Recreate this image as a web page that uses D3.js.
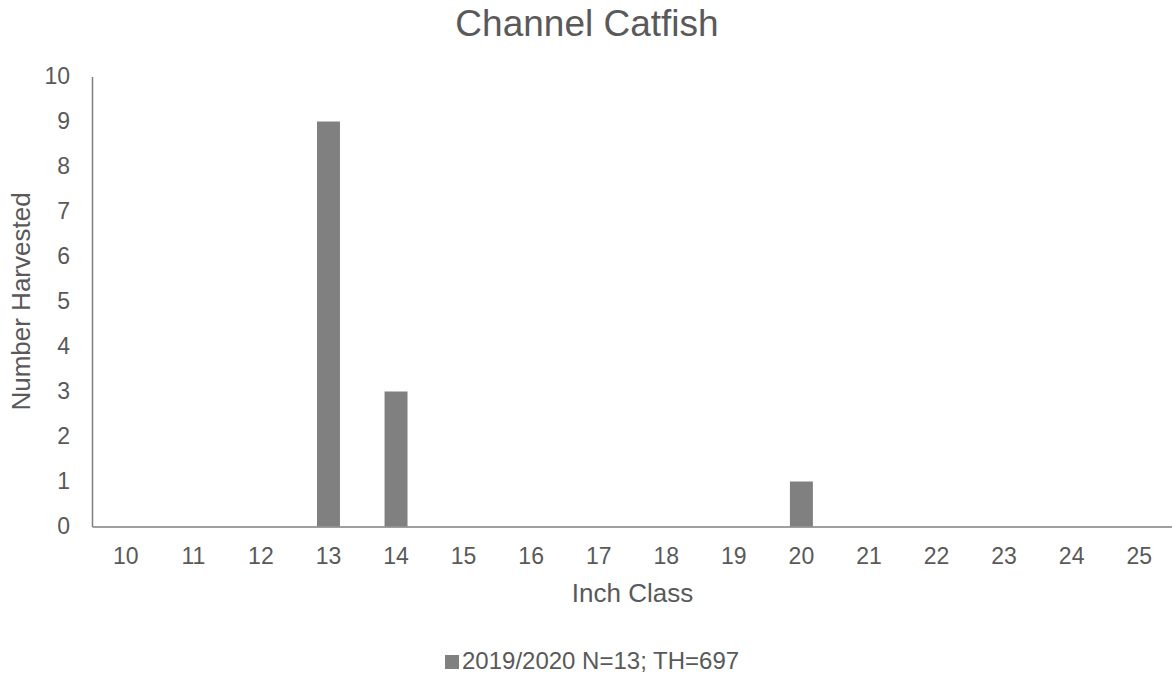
<!DOCTYPE html>
<html>
<head>
<meta charset="utf-8">
<script src="https://cdn.jsdelivr.net/npm/d3@7"></script>
<style>
  body { margin: 0; background: #fff; }
  text { font-family: "Liberation Sans", Arial, sans-serif; fill: #595959; }
</style>
</head>
<body>
<div id="chart"></div>
<script>
// data
var inchClasses = ["10","11","12","13","14","15","16","17","18","19","20","21","22","23","24","25"];
var harvested = [0, 0, 0, 9, 3, 0, 0, 0, 0, 0, 1, 0, 0, 0, 0, 0];
var yTicks = [0,1,2,3,4,5,6,7,8,9,10];
var seriesName = "2019/2020 N=13; TH=697";

var W = 1172, H = 679;
var margin = {left: 92, right: -1, top: 76.5, bottom: 152.5};
var width = W - margin.left - margin.right, height = H - margin.top - margin.bottom;

var svg = d3.select("#chart").append("svg")
    .attr("width", W).attr("height", H);

svg.append("text")
    .attr("x", 587).attr("y", 36)
    .attr("text-anchor", "middle")
    .style("font-size", "37px")
    .text("Channel Catfish");

var g = svg.append("g").attr("transform", "translate(" + margin.left + "," + margin.top + ")");

var x = d3.scaleBand().domain(inchClasses).range([0, width]).paddingInner(0.66).paddingOuter(0.33);
var y = d3.scaleLinear().domain([0, 10]).range([height, 0]);

g.selectAll("rect.bar")
    .data(harvested)
    .enter().append("rect")
    .attr("class", "bar")
    .attr("x", function(d, i) { return x(inchClasses[i]); })
    .attr("width", x.bandwidth())
    .attr("y", function(d) { return y(d); })
    .attr("height", function(d) { return height - y(d); })
    .attr("fill", "#808080");

// axes
var yAxis = g.append("g").call(d3.axisLeft(y).tickValues(yTicks).tickSize(0).tickPadding(22));
yAxis.select(".domain").attr("stroke", "#7f7f7f").attr("stroke-width", 1.5);
yAxis.selectAll("text").style("font-size", "23px").attr("fill", "#595959");

var xAxis = g.append("g").attr("transform", "translate(0," + height + ")")
    .call(d3.axisBottom(x).tickSize(0).tickPadding(21));
xAxis.select(".domain").attr("stroke", "#7f7f7f").attr("stroke-width", 1.5);
xAxis.selectAll("text").style("font-size", "23px").attr("fill", "#595959");

svg.append("text")
    .attr("x", margin.left + width / 2).attr("y", 602)
    .attr("text-anchor", "middle")
    .style("font-size", "26px")
    .text("Inch Class");

svg.append("text")
    .attr("transform", "translate(30," + (margin.top + height / 2) + ") rotate(-90)")
    .attr("text-anchor", "middle")
    .style("font-size", "26px")
    .text("Number Harvested");

// legend
var leg = svg.append("g").attr("transform", "translate(445,669)");
leg.append("rect").attr("x", 0).attr("y", -14).attr("width", 14).attr("height", 14).attr("fill", "#808080");
leg.append("text").attr("x", 17).attr("y", 0).style("font-size", "24px").text(seriesName);
</script>
</body>
</html>
